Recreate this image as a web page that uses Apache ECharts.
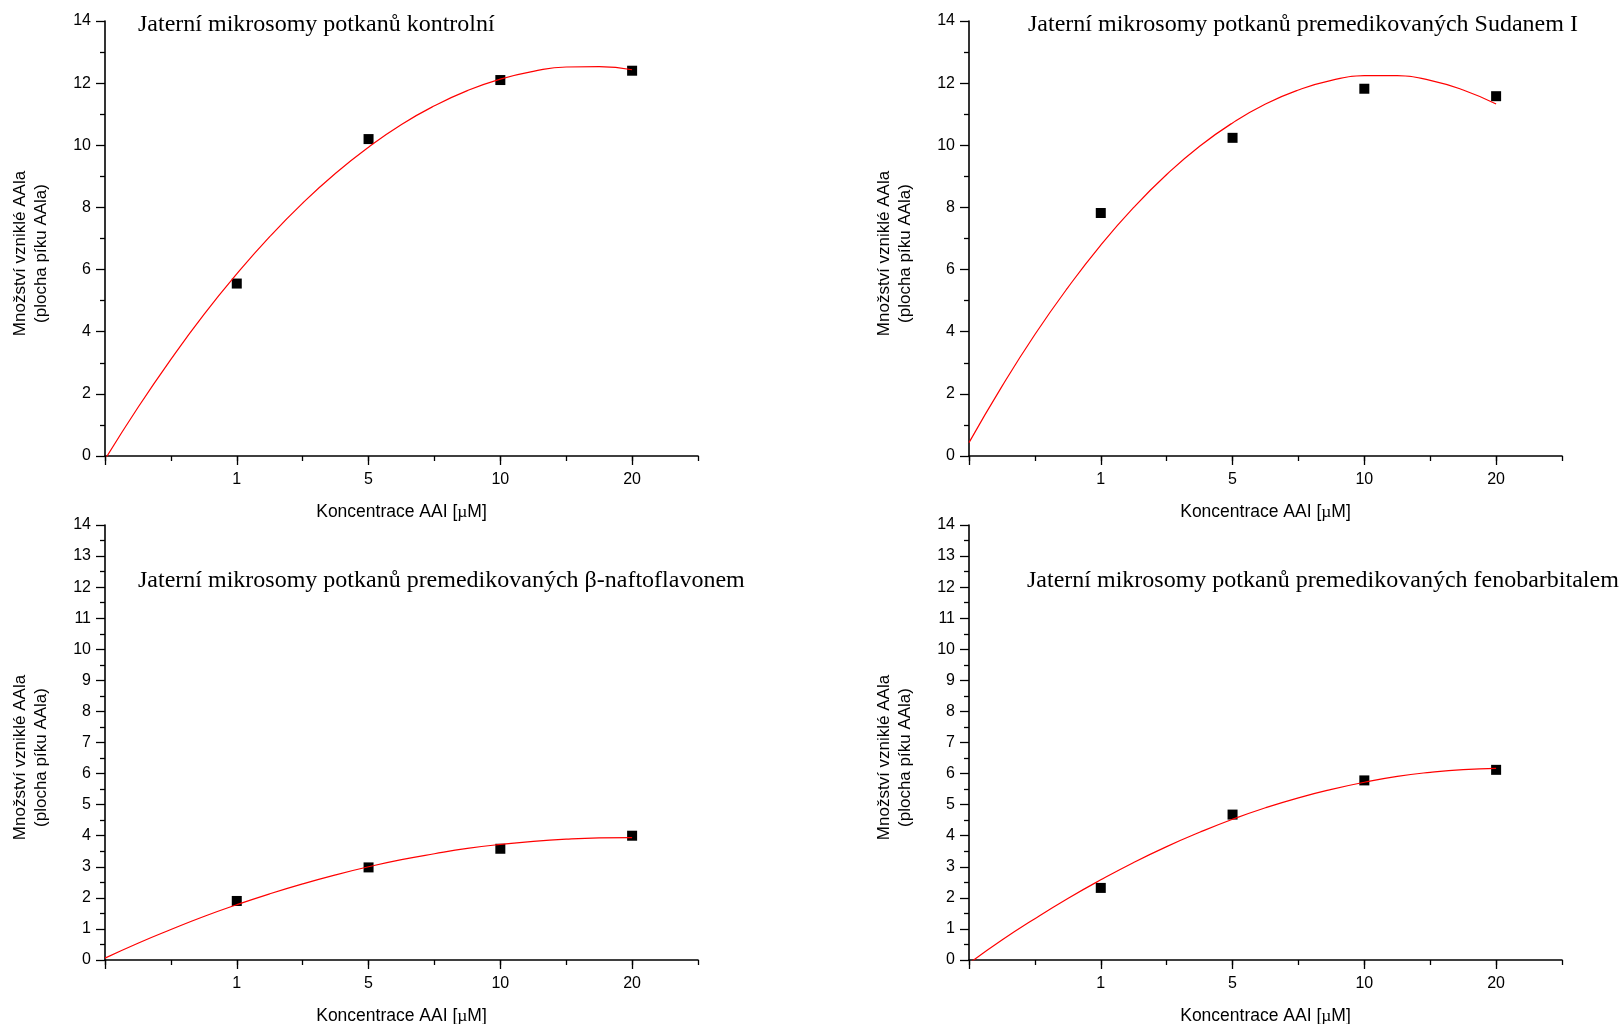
<!DOCTYPE html>
<html>
<head>
<meta charset="utf-8">
<script src="https://cdn.jsdelivr.net/npm/echarts@6.0.0/dist/echarts.min.js"></script>
<style>
html,body{margin:0;padding:0;background:#fff;}
#c{width:1623px;height:1024px;}
</style>
</head>
<body>
<div id="c"></div>
<script>
// ---- data ----
const concLabels = ['1', '5', '10', '20'];          // AAI concentration, µM
const titles = [
  'Jaterní mikrosomy potkanů kontrolní',
  'Jaterní mikrosomy potkanů premedikovaných Sudanem I',
  'Jaterní mikrosomy potkanů premedikovaných β-naftoflavonem',
  'Jaterní mikrosomy potkanů premedikovaných fenobarbitalem'
];
const yTitleLines = ['Množství vzniklé AAla', '(plocha píku AAla)'];

// measured points (black squares)
const kontrolni = [5.55, 10.2, 12.1, 12.4];
const sudan = [7.82, 10.24, 11.82, 11.58];
const naftoflavon = [1.9, 2.98, 3.58, 4.0];
const fenobarbital = [2.32, 4.68, 5.78, 6.12];

// red fitted curves, read at axis positions 0 .. 4
const fitPos = [0, 0.25, 0.5, 0.75, 1, 1.25, 1.5, 1.75, 2, 2.25, 2.5, 2.75, 3, 3.25, 3.5, 3.75, 4];
const fitKontrolni = [-0.11, 1.56, 3.11, 4.55, 5.86, 7.06, 8.14, 9.1, 9.94, 10.67, 11.27, 11.76, 12.13, 12.38, 12.52, 12.53, 12.43];
const fitSudan = [0.43, 2.24, 3.91, 5.42, 6.79, 8.0, 9.06, 9.97, 10.72, 11.33, 11.78, 12.09, 12.24, 12.24, 12.09, 11.78, 11.33];
const fitNaftoflavon = [0.06, 0.54, 0.98, 1.4, 1.78, 2.13, 2.45, 2.74, 3.0, 3.23, 3.42, 3.59, 3.72, 3.82, 3.89, 3.93, 3.94];
const fitFenobarbital = [-0.11, 0.64, 1.33, 1.98, 2.58, 3.14, 3.65, 4.11, 4.53, 4.9, 5.22, 5.49, 5.72, 5.91, 6.04, 6.13, 6.17];

// y axis ticks
const yMax = 14;
const yMajorStep = [2, 2, 1, 1];

// ---- layout ----
const W = 593, H = 435;
const grids = [
  { left: 105, top: 21, titleDx: 33, titleDy: 4 },
  { left: 969, top: 21, titleDx: 59, titleDy: 4 },
  { left: 105, top: 525, titleDx: 33, titleDy: 56 },
  { left: 969, top: 525, titleDx: 58, titleDy: 56 }
];
const measuredSets = [kontrolni, sudan, naftoflavon, fenobarbital];
const fitSets = [fitKontrolni, fitSudan, fitNaftoflavon, fitFenobarbital];

const SANS = 'Liberation Sans, Arial, sans-serif';
const SERIF = 'Liberation Serif, Times New Roman, serif';
const BLACK = '#000';

const option = {
  animation: false,
  backgroundColor: '#fff',
  grid: [], xAxis: [], yAxis: [], series: [], graphic: []
};

grids.forEach((g, i) => {
  option.grid.push({ left: g.left, top: g.top, width: W, height: H, outerBoundsMode: 'none', containLabel: false });
  // main x axis: line, short ticks every half position, labels, name
  option.xAxis.push({
    gridIndex: i, type: 'value', min: 0, max: 4.5, interval: 0.5, position: 'bottom',
    axisLine: { show: true, onZero: false, lineStyle: { color: BLACK, width: 1.6 } },
    axisTick: { show: true, length: 5, lineStyle: { color: BLACK, width: 1.3 } },
    splitLine: { show: false },
    axisLabel: {
      color: BLACK, fontSize: 16, fontFamily: SANS, margin: 16,
      showMinLabel: true, showMaxLabel: true, hideOverlap: false,
      formatter: v => (Number.isInteger(v) && v >= 1 && v <= concLabels.length) ? concLabels[v - 1] : ''
    },
    name: 'Koncentrace AAI [{mu|µ}M]', nameLocation: 'middle', nameGap: 47,
    nameTextStyle: { color: BLACK, fontSize: 17.5, fontFamily: SANS,
      rich: { mu: { fontFamily: SERIF, fontSize: 17.5, color: BLACK } } }
  });
  // overlay axis: long ticks at integer positions
  option.xAxis.push({
    gridIndex: i, type: 'value', min: 0, max: 4.5, interval: 0.5, position: 'bottom', offset: 0,
    axisLine: { show: false, onZero: false },
    axisTick: { show: true, length: 9, customValues: [0, 1, 2, 3, 4], lineStyle: { color: BLACK, width: 1.3 } },
    axisLabel: { show: false },
    splitLine: { show: false }
  });
  option.yAxis.push({
    gridIndex: i, type: 'value', min: 0, max: yMax, interval: yMajorStep[i],
    axisLine: { show: true, onZero: false, lineStyle: { color: BLACK, width: 1.6 } },
    axisTick: { show: true, length: 9, lineStyle: { color: BLACK, width: 1.3 } },
    minorTick: { show: true, splitNumber: 2, length: 5, lineStyle: { color: BLACK, width: 1.3 } },
    splitLine: { show: false }, minorSplitLine: { show: false },
    axisLabel: { color: BLACK, fontSize: 16, fontFamily: SANS, margin: 14 }
  });
  option.series.push({
    type: 'scatter', xAxisIndex: i * 2, yAxisIndex: i,
    symbol: 'rect', symbolSize: 10, itemStyle: { color: BLACK, opacity: 1 },
    data: measuredSets[i].map((v, k) => [k + 1, v]), z: 2
  });
  option.series.push({
    type: 'line', xAxisIndex: i * 2, yAxisIndex: i, clip: true,
    showSymbol: false, smooth: true,
    lineStyle: { color: '#ff0000', width: 1.2 },
    data: fitPos.map((p, k) => [p, fitSets[i][k]]), z: 3
  });
  // panel title
  option.graphic.push({
    type: 'text', x: g.left + g.titleDx, y: g.top + g.titleDy,
    style: { text: titles[i], fill: BLACK, fontSize: 24, fontFamily: SERIF,
      align: 'left', textAlign: 'left', verticalAlign: 'middle', textVerticalAlign: 'middle' }
  });
  // y axis title (rotated)
  option.graphic.push({
    type: 'text', x: g.left - 74, y: g.top + H / 2 + 15, rotation: Math.PI / 2,
    style: { text: yTitleLines.join('\n'), fill: BLACK, fontSize: 17, fontFamily: SANS, lineHeight: 21,
      align: 'center', textAlign: 'center', verticalAlign: 'middle', textVerticalAlign: 'middle' }
  });
});

const chart = echarts.init(document.getElementById('c'), null, { renderer: 'canvas' });
chart.setOption(option);
</script>
</body>
</html>
